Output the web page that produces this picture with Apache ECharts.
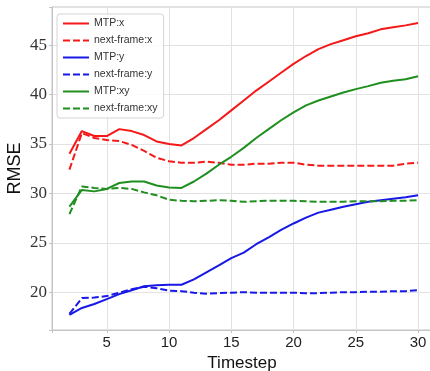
<!DOCTYPE html>
<html>
<head>
<meta charset="utf-8">
<script src="https://cdn.jsdelivr.net/npm/echarts@6/dist/echarts.min.js"></script>
<style>
  html, body { margin: 0; padding: 0; background: #fff; }
  #chart { width: 430px; height: 371px; }
</style>
</head>
<body>
<div id="chart"></div>
<script>
const timesteps = [2, 3, 4, 5, 6, 7, 8, 9, 10, 11, 12, 13, 14, 15, 16, 17, 18, 19, 20, 21, 22, 23, 24, 25, 26, 27, 28, 29, 30];

const mtpX = [34.0, 36.3, 35.8, 35.8, 36.5, 36.3, 35.9, 35.25, 35.0, 34.85, 35.6, 36.5, 37.4, 38.4, 39.4, 40.4, 41.3, 42.2, 43.1, 43.9, 44.6, 45.1, 45.5, 45.9, 46.2, 46.6, 46.8, 47.0, 47.25];
const nextFrameX = [32.4, 36.1, 35.6, 35.4, 35.3, 34.9, 34.3, 33.6, 33.25, 33.1, 33.1, 33.2, 33.1, 32.9, 32.9, 33.0, 33.0, 33.1, 33.1, 32.9, 32.8, 32.8, 32.8, 32.8, 32.8, 32.8, 32.8, 33.0, 33.1];
const mtpY = [17.7, 18.4, 18.8, 19.3, 19.8, 20.2, 20.6, 20.7, 20.75, 20.75, 21.3, 22.0, 22.7, 23.45, 24.0, 24.85, 25.55, 26.3, 26.95, 27.55, 28.05, 28.35, 28.65, 28.9, 29.15, 29.3, 29.45, 29.6, 29.8];
const nextFrameY = [17.8, 19.4, 19.45, 19.6, 19.95, 20.3, 20.55, 20.4, 20.15, 20.1, 19.95, 19.85, 19.9, 19.95, 20.0, 19.95, 19.95, 19.95, 19.95, 19.9, 19.9, 19.95, 20.0, 20.0, 20.05, 20.05, 20.1, 20.1, 20.2];
const mtpXY = [28.65, 30.35, 30.2, 30.45, 31.05, 31.2, 31.2, 30.8, 30.6, 30.55, 31.2, 32.0, 32.9, 33.7, 34.6, 35.6, 36.5, 37.4, 38.2, 38.9, 39.4, 39.8, 40.2, 40.55, 40.85, 41.2, 41.4, 41.55, 41.85];
const nextFrameXY = [27.9, 30.7, 30.55, 30.45, 30.55, 30.45, 30.1, 29.8, 29.35, 29.25, 29.2, 29.25, 29.3, 29.25, 29.15, 29.2, 29.25, 29.25, 29.25, 29.2, 29.15, 29.15, 29.15, 29.2, 29.2, 29.2, 29.25, 29.25, 29.3];

const RED = "#f51818";
const BLUE = "#1818e6";
const GREEN = "#1f8f1f";

const pairs = (values) => values.map((v, i) => [timesteps[i], v]);

const lineSeries = (name, values, color, dashed) => ({
  name,
  type: "line",
  data: pairs(values),
  symbol: "none",
  smooth: false,
  color,
  lineStyle: {
    color,
    width: 2,
    type: dashed ? [7, 3] : "solid",
  },
});

// only show multiples of 5 (min/max of the padded extent also get ticks)
const fiveOnly = (v) => (Math.abs(v - Math.round(v)) < 1e-6 && Math.round(v) % 5 === 0 ? String(Math.round(v)) : "");

const chart = echarts.init(document.getElementById("chart"), null, { renderer: "canvas" });

chart.setOption({
  animation: false,
  backgroundColor: "#fff",
  grid: {
    left: 52,
    right: -2,
    top: 7,
    bottom: 41,
    outerBoundsMode: "none",
    containLabel: false,
    show: true,
    borderColor: "#c4c4c4",
    borderWidth: 1,
  },
  legend: {
    orient: "vertical",
    left: 57,
    top: 14,
    padding: [4, 6, 4, 5],
    itemWidth: 26,
    itemHeight: 12,
    itemGap: 6,
    itemStyle: { opacity: 0 },
    backgroundColor: "rgba(255,255,255,0.85)",
    borderColor: "#d4d4d4",
    borderWidth: 1,
    borderRadius: 3,
    textStyle: {
      fontFamily: "Liberation Sans",
      fontSize: 10.5,
      color: "#333",
    },
  },
  xAxis: {
    type: "value",
    min: 0.6,
    max: 31.12,
    splitNumber: 6,
    name: "Timestep",
    nameLocation: "middle",
    nameGap: 24,
    nameTextStyle: {
      fontFamily: "Liberation Sans",
      fontSize: 17,
      color: "#111",
    },
    axisLine: { show: true, lineStyle: { color: "#c4c4c4" } },
    axisTick: { show: true, length: 3, lineStyle: { color: "#c4c4c4" } },
    axisLabel: {
      margin: 5,
      fontFamily: "Liberation Sans",
      fontSize: 15,
      color: "#222",
      formatter: fiveOnly,
    },
    splitLine: { show: true, lineStyle: { color: "#e2e2e2", width: 1 } },
  },
  yAxis: {
    type: "value",
    min: 16.17,
    max: 48.86,
    splitNumber: 6,
    name: "RMSE",
    nameLocation: "middle",
    nameGap: 28,
    nameMoveOverlap: false,
    nameTextStyle: {
      fontFamily: "Liberation Sans",
      fontSize: 18,
      color: "#111",
    },
    axisLine: { show: true, lineStyle: { color: "#c4c4c4" } },
    axisTick: { show: true, length: 3, lineStyle: { color: "#c4c4c4" } },
    axisLabel: {
      margin: 5,
      fontFamily: "Liberation Serif",
      fontSize: 17,
      color: "#333",
      formatter: fiveOnly,
    },
    splitLine: { show: true, lineStyle: { color: "#e2e2e2", width: 1 } },
  },
  series: [
    lineSeries("MTP:x", mtpX, RED, false),
    lineSeries("next-frame:x", nextFrameX, RED, true),
    lineSeries("MTP:y", mtpY, BLUE, false),
    lineSeries("next-frame:y", nextFrameY, BLUE, true),
    lineSeries("MTP:xy", mtpXY, GREEN, false),
    lineSeries("next-frame:xy", nextFrameXY, GREEN, true),
  ],
});
</script>
</body>
</html>
